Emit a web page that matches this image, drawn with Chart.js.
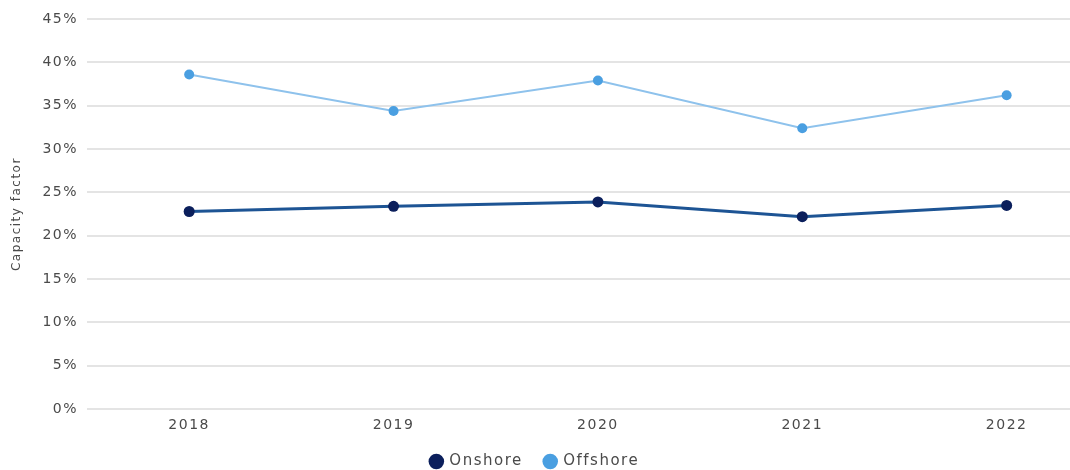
<!DOCTYPE html>
<html>
<head>
<meta charset="utf-8">
<script src="https://cdn.jsdelivr.net/npm/chart.js@4"></script>
<style>
html,body{margin:0;padding:0;background:#fff;overflow:hidden;}
#wrap{width:1070px;height:470px;position:relative;}
</style>
</head>
<body>
<div id="wrap"><canvas id="c"></canvas></div>
<script>
const categories = ["2018", "2019", "2020", "2021", "2022"];
const onshore = [22.8, 23.4, 23.9, 22.2, 23.5];
const offshore = [38.6, 34.4, 37.9, 32.4, 36.2];
const yTicks = [0, 5, 10, 15, 20, 25, 30, 35, 40, 45];

const toPts = arr => arr.map((v, i) => ({x: i, y: v}));
const FONT = "'DejaVu Sans', sans-serif";
const TXT = "#4a4a4a";

const spacing = {
  id: 'spacing',
  beforeInit(chart) { chart.ctx.letterSpacing = '1.5px'; },
  beforeLayout(chart) { chart.ctx.letterSpacing = '1.5px'; },
  beforeDraw(chart) { chart.ctx.letterSpacing = '1.5px'; }
};

new Chart(document.getElementById('c'), {
  type: 'line',
  plugins: [spacing],
  data: {
    datasets: [
      {
        label: 'Onshore',
        data: toPts(onshore),
        borderColor: '#1d5494',
        backgroundColor: '#0b1f5c',
        borderWidth: 3,
        pointRadius: 5.5,
        pointHoverRadius: 5.5,
        pointBackgroundColor: '#0b1f5c',
        pointBorderColor: '#0b1f5c',
        pointBorderWidth: 0,
        tension: 0
      },
      {
        label: 'Offshore',
        data: toPts(offshore),
        borderColor: '#8ec2ec',
        backgroundColor: '#4a9fe1',
        borderWidth: 2,
        pointRadius: 5,
        pointHoverRadius: 5,
        pointBackgroundColor: '#4a9fe1',
        pointBorderColor: '#4a9fe1',
        pointBorderWidth: 0,
        tension: 0
      }
    ]
  },
  options: {
    responsive: true,
    maintainAspectRatio: false,
    animation: false,
    layout: {autoPadding: false, padding: {top: 19, right: 0, bottom: -9, left: 0}},
    plugins: {
      tooltip: {enabled: false},
      legend: {
        position: 'bottom',
        labels: {
          usePointStyle: true,
          pointStyle: 'circle',
          boxWidth: 11,
          boxHeight: 11,
          padding: 22,
          color: TXT,
          font: {family: FONT, size: 15},
          generateLabels: chart => chart.data.datasets.map((ds, i) => ({
            text: ds.label,
            fillStyle: ds.pointBackgroundColor,
            strokeStyle: ds.pointBackgroundColor,
            lineWidth: 0,
            pointStyle: 'circle',
            fontColor: TXT,
            hidden: false,
            datasetIndex: i
          }))
        }
      }
    },
    scales: {
      x: {
        type: 'linear',
        min: -0.5,
        max: 4.31,
        grid: {display: false, drawTicks: false},
        border: {display: false},
        afterBuildTicks: scale => { scale.ticks = categories.map((c, i) => ({value: i})); },
        afterFit: scale => { scale.height -= 10; },
        ticks: {
          color: TXT,
          font: {family: FONT, size: 14},
          padding: 8,
          maxRotation: 0,
          autoSkip: false,
          callback: v => categories[v]
        }
      },
      y: {
        min: 0,
        max: 45,
        afterBuildTicks: scale => { scale.ticks = yTicks.map(v => ({value: v})); },
        afterFit: scale => { scale.width = 87; },
        grid: {color: '#e4e4e4', lineWidth: 2, drawTicks: false},
        border: {display: false},
        ticks: {
          color: TXT,
          font: {family: FONT, size: 14},
          padding: 9,
          callback: v => v + '%'
        },
        title: {
          display: true,
          text: 'Capacity factor',
          color: TXT,
          font: {family: FONT, size: 12},
          padding: {top: 10, bottom: 4}
        }
      }
    }
  }
});
</script>
</body>
</html>
